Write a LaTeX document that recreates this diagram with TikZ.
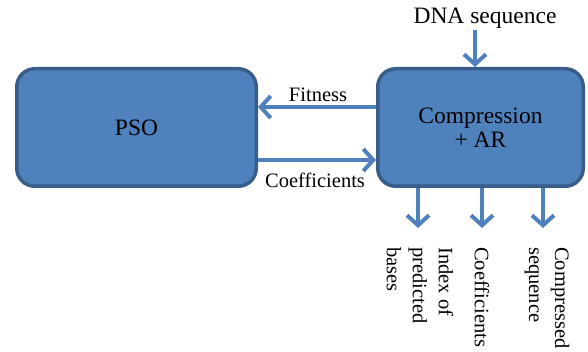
\documentclass[tikz,border=0pt]{standalone}
\usepackage{fontspec}
\setmainfont{Liberation Serif}
\usetikzlibrary{arrows.meta}
\definecolor{boxfill}{HTML}{4F81BD}
\definecolor{boxline}{HTML}{385D8A}
\definecolor{arrowc}{HTML}{4F81BD}
\tikzset{
  box/.style={draw=boxline, fill=boxfill, line width=3.5pt, rounded corners=18pt, inner sep=0pt, text=black},
  arr/.style={draw=arrowc, line width=4pt, -{Straight Barb[length=10pt,width=22pt,line width=4pt]}},
  big/.style={font=\fontsize{23.5}{24}\selectfont},
  lab/.style={font=\fontsize{20.5}{26}\selectfont, inner sep=0pt},
  vlab/.style={lab, rotate=-90, anchor=west, align=left}
}
\begin{document}
\begin{tikzpicture}[x=1pt,y=-1pt]
\useasboundingbox (0,0) rectangle (588,352);
\node[box, big, minimum width=239.5pt, minimum height=117.5pt] (pso) at (136.5,127.5) {PSO};
\node[box, big, minimum width=205.5pt, minimum height=117.5pt, align=center] (comp) at (480.5,127.5) {Compression\\+ AR};
\node[big, inner sep=0pt] (dna) at (485,18) {DNA sequence};
\coordinate (dtop) at (475,30);
\draw[arr] (dtop) -- (dtop |- comp.north);
\draw[arr] ([yshift=20.5pt]comp.west) -- ([yshift=20.5pt]pso.east);
\draw[arr] ([yshift=-32.5pt]pso.east) -- ([yshift=-32.5pt]comp.west);
\node[lab] (fit) at (318,95) {Fitness};
\node[lab] (coef) at (315,180) {Coefficients};
\coordinate (o1) at (418,228);
\coordinate (o2) at (482,228);
\coordinate (o3) at (543,228);
\draw[arr] (comp.south -| o1) -- (o1);
\draw[arr] (comp.south -| o2) -- (o2);
\draw[arr] (comp.south -| o3) -- (o3);
\node[vlab] (l1) at (420,247) {Index of\\predicted\\bases};
\node[vlab] (l2) at (482,247) {Coefficients};
\node[vlab] (l3) at (547,247) {Compressed\\sequence};
\end{tikzpicture}
\end{document}
